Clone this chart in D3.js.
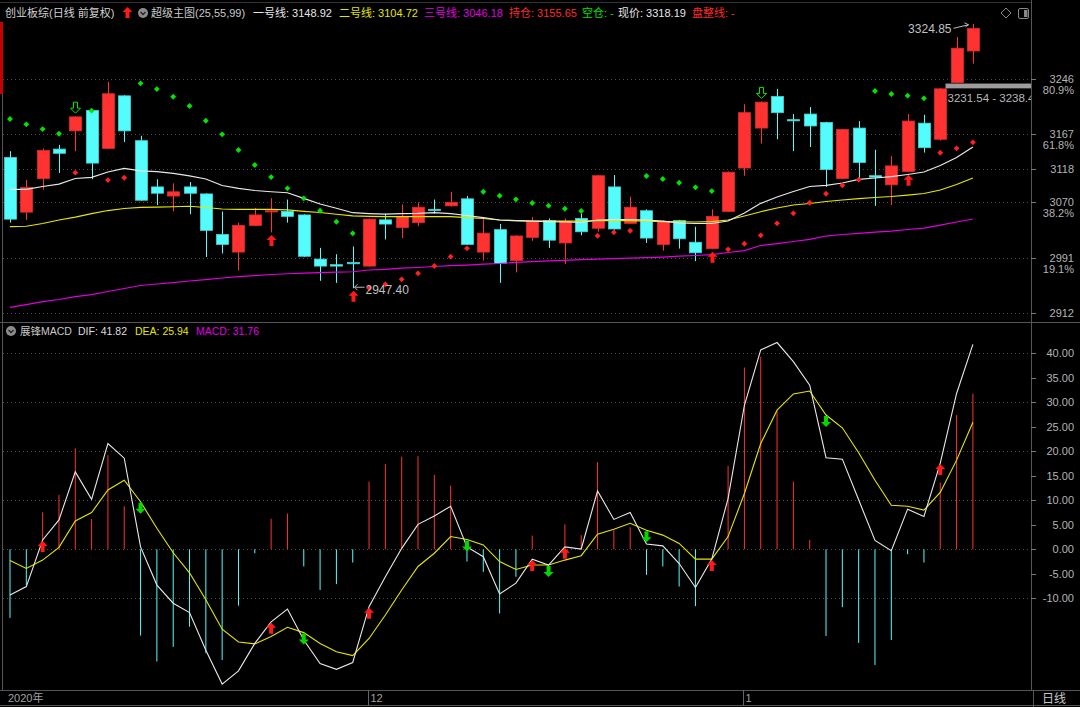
<!DOCTYPE html>
<html>
<head>
<meta charset="utf-8">
<script src="https://cdn.jsdelivr.net/npm/d3@7/dist/d3.min.js"></script>
<style>
  html, body { margin: 0; padding: 0; background: #000; }
  svg { display: block; }
  text { font-family: "Liberation Sans", Arial, "Noto Sans CJK SC", sans-serif; }
</style>
</head>
<body>
<script>
// ---- daily candles (创业板综, 60 sessions) ----
const opens = [3134,3056,3104,3146,3172,3201,3147,3222,3158,3092,3079,3092,3082,3024,2999,3037,3057,3057,3052,2989,2981,2984,2979,3045,3034,3041,3060,3065,3075,2999,3031,2987,3020,3044,3012,3047,3033,3092,3040,3058,3010,3044,3013,3004,3057,3119,3176,3221,3188,3196,3184,3104,3176,3108,3095,3114,3183,3160,3241,3286];
const highs = [3143,3102,3147,3152,3193,3202,3242,3223,3165,3103,3097,3099,3083,3057,3041,3062,3076,3074,3053,3005,2996,3007,3047,3054,3067,3070,3074,3085,3079,3046,3039,3023,3049,3047,3047,3054,3109,3109,3078,3060,3044,3045,3035,3060,3114,3210,3214,3232,3196,3206,3185,3175,3186,3145,3136,3196,3195,3233,3306,3324.85];
const lows = [3041,3045,3088,3112,3143,3103,3146,3156,3072,3066,3057,3053,2992,2997,2973,3036,3027,3041,2992,2958,2955,2947.4,2978,3017,3019,3036,3054,3064,3009,2987,2955,2970,3015,3005,2982,3023,3028,3031,3039,3012,3001,3004,2986,3003,3056,3108,3154,3160,3143,3149,3092,3103,3105,3065,3066,3113,3141,3158,3240,3268];
const closes = [3046,3091,3144,3140,3192,3126,3225,3172,3073,3083,3085,3083,3030,3010,3037,3052,3058,3050,2993,2979,2979,2983,3046,3039,3050,3063,3059,3070,3010,3026,2983,3022,3043,3016,3043,3028,3108,3032,3063,3019,3043,3018,2998,3050,3113,3198,3213,3198,3187,3179,3117,3174,3127,3106,3122,3186,3148,3232,3290,3318.19];

// ---- 超级主图 lines ----
const line1 = [3088.6,3088.6,3092.6,3096.1,3104.0,3105.7,3113.3,3118.5,3115.0,3113.7,3111.4,3107.8,3103.3,3094.0,3090.0,3086.9,3085.1,3083.7,3075.7,3067.6,3061.5,3055.2,3054.0,3053.3,3054.0,3054.3,3055.2,3054.0,3051.2,3048.3,3044.8,3044.0,3043.3,3042.6,3041.9,3041.2,3044.8,3045.5,3045.5,3044.8,3043.3,3040.5,3039.8,3039.8,3043.3,3054.7,3068.6,3077.6,3085.4,3092.6,3094.3,3097.6,3102.8,3104.7,3106.6,3109.7,3113.3,3122.5,3134.0,3148.92];
const line2 = [3035.2,3035.9,3039.8,3044.8,3049.0,3054.0,3058.3,3061.2,3062.9,3063.3,3063.7,3064.4,3062.6,3060.5,3060.0,3060.0,3060.0,3059.3,3057.2,3055.5,3053.0,3050.7,3050.0,3049.7,3049.5,3049.5,3049.5,3049.5,3048.3,3046.9,3044.8,3044.0,3043.3,3043.3,3043.3,3043.3,3044.0,3044.0,3044.0,3043.3,3042.6,3042.2,3041.9,3042.6,3044.8,3050.5,3056.6,3061.9,3066.2,3068.3,3071.2,3073.3,3075.4,3076.9,3078.3,3080.4,3082.6,3087.6,3095.4,3104.72];
const line3 = [2920.1,2924.1,2928.4,2931.3,2935.3,2938.4,2942.7,2947.0,2951.3,2953.4,2955.5,2957.7,2959.8,2962.0,2964.1,2965.5,2967.0,2968.1,2969.1,2969.8,2970.5,2970.9,2973.4,2974.4,2976.0,2977.0,2978.4,2979.8,2980.5,2981.7,2982.7,2984.4,2985.5,2986.5,2987.2,2988.2,2988.9,2989.7,2990.5,2991.2,2991.9,2993.1,2994.1,2995.4,2998.4,3001.2,3008.4,3011.2,3014.1,3017.2,3021.9,3024.1,3025.8,3027.6,3029.0,3031.2,3033.3,3037.6,3041.9,3046.18];
const sar = [3188.9,3181.3,3174.6,3167.9,3112.3,3200.8,3101.8,3105.1,3239.9,3231.7,3220.7,3207.5,3186.5,3167.1,3144.7,3123.3,3106.1,3090.0,3075.7,3058.0,3042.3,3025.8,2947.7,2953.0,2960.1,2968.7,2979.1,2992.4,3004.4,3085.1,3079.4,3074.3,3069.0,3065.2,3060.9,3057.6,3022.3,3027.2,3029.5,3107.6,3103.3,3098.0,3091.4,3086.1,3002.9,3010.9,3022.9,3040.0,3054.3,3069.4,3082.3,3094.3,3102.3,3228.9,3224.6,3222.2,3218.5,3140.8,3147.1,3155.65];
const buySignals = [16, 21, 43, 55];
const sellSignals = [4, 46];
const bandLow = 3231.54, bandHigh = 3238.4, bandStart = 57;

// ---- 展锋MACD ----
const dif = [-9.33,-7.6,1.9,6.0,15.8,10.2,21.6,18.6,0.5,-7.3,-11.0,-12.9,-20.6,-27.5,-24.8,-19.2,-14.8,-12.2,-18.5,-23.3,-24.5,-23.1,-11.7,-5.6,0.2,5.1,6.8,8.8,0.5,-1.5,-9.1,-6.9,-2.0,-3.2,0.5,0.06,11.9,6.1,7.5,1.1,0.7,-2.9,-7.8,-2.0,10.4,29.4,40.7,42.2,38.3,33.5,18.7,18.4,10.1,1.8,-0.3,8.2,6.7,17.6,31.8,41.82];
const dea = [-2.3,-3.9,-2.2,0.4,5.8,7.5,12.1,14.1,9.7,4.3,-0.7,-4.8,-10.3,-16.3,-18.9,-19.3,-17.8,-15.9,-17.0,-19.2,-20.9,-21.7,-18.2,-13.4,-8.3,-3.5,-0.8,2.6,2.0,0.9,-2.5,-4.1,-3.2,-3.2,-2.2,-1.3,3.1,4.1,5.3,3.9,2.9,1.2,-2.0,-2.0,2.6,11.4,21.6,28.4,31.7,32.3,27.4,24.8,19.7,14.1,9.0,8.8,8.0,11.6,18.2,25.94];
const macd = [-14.0,-7.3,7.55,11.1,20.6,6.2,19.2,8.8,-17.6,-22.9,-19.9,-15.8,-21.2,-22.6,-11.5,-0.8,6.2,7.3,-3.5,-8.3,-7.1,-2.7,13.8,17.4,18.9,19.0,15.2,13.0,-2.5,-4.6,-13.1,-5.6,2.8,0,5.1,2.9,17.8,3.9,4.5,-5.2,-3.5,-7.6,-11.6,0,17.0,37.1,39.3,28.2,13.8,1.9,-17.7,-11.8,-19.1,-23.6,-18.5,-1.0,-2.7,13.6,27.4,31.76];
const macdUp = [2, 16, 22, 32, 34, 43, 57];
const macdDown = [8, 18, 28, 33, 39, 50];

// ---- axis labels ----
const priceTicks = [3246, 3167, 3118, 3070, 2991, 2912];
const pctLabels = ["80.9%", "61.8%", "", "38.2%", "19.1%", ""];
const macdTicks = [40, 35, 30, 25, 20, 15, 10, 5, 0, -5, -10];
const macdGrid = [40, 30, 20, 10, 0, -10];
const dateTicks = [{ i: 0, label: "2020年" }, { i: 22, label: "12" }, { i: 45, label: "1" }];

const width = 1080, height = 707;
const plotL = 3, plotR = 1031;
const mainTop = 22, mainBot = 322, macdBot = 690;
const RED = "#ff3232", CYAN = "#54fcfc", GREEN = "#00e600";
const GRID = "#4a4a4a", FRAME = "#555", AXIS_TXT = "#b4b4b4";

const svg = d3.select("body").append("svg")
    .attr("width", width)
    .attr("height", height)
    .style("background", "#000");

const x = d3.scaleLinear().domain([0, 59]).range([10, 972.9]);
const y = d3.scaleLinear().domain([2899.2, 3327.4]).range([mainBot, mainTop]);
const ym = d3.scaleLinear().domain([-28.71, 46.39]).range([macdBot, mainBot]);
const px = i => Math.round(x(i)) + 0.5;

const defs = svg.append("defs");
defs.append("clipPath").attr("id", "clipMain").append("rect")
    .attr("x", plotL).attr("y", 18).attr("width", plotR - plotL).attr("height", mainBot - 18);
defs.append("clipPath").attr("id", "clipMacd").append("rect")
    .attr("x", plotL).attr("y", mainBot + 1).attr("width", plotR - plotL).attr("height", macdBot - mainBot - 1);

// frame
const frame = svg.append("g").attr("stroke", FRAME).attr("stroke-width", 1);
frame.append("line").attr("x1", 0).attr("x2", plotR).attr("y1", 2.5).attr("y2", 2.5).attr("stroke", "#333");
frame.append("line").attr("x1", plotL - 0.5).attr("x2", plotL - 0.5).attr("y1", 22).attr("y2", macdBot);
frame.append("line").attr("x1", plotR + 0.5).attr("x2", plotR + 0.5).attr("y1", 0).attr("y2", macdBot);
frame.append("line").attr("x1", 0).attr("x2", width).attr("y1", mainBot + 0.5).attr("y2", mainBot + 0.5);
frame.append("line").attr("x1", 0).attr("x2", width).attr("y1", macdBot + 0.5).attr("y2", macdBot + 0.5);
frame.append("line").attr("x1", 0).attr("x2", width).attr("y1", 705.5).attr("y2", 705.5);
frame.append("line").attr("x1", 1033.5).attr("x2", 1033.5).attr("y1", macdBot).attr("y2", height);
svg.append("rect").attr("x", 0).attr("y", 22).attr("width", 3).attr("height", 72).attr("fill", "#c80000");

// grids
svg.append("g").selectAll("line").data(priceTicks).join("line")
    .attr("x1", plotL).attr("x2", plotR)
    .attr("y1", d => Math.round(y(d)) + 0.5).attr("y2", d => Math.round(y(d)) + 0.5)
    .attr("stroke", GRID).attr("stroke-dasharray", "1,3");
svg.append("g").selectAll("line").data(macdGrid).join("line")
    .attr("x1", plotL).attr("x2", plotR)
    .attr("y1", d => Math.round(ym(d)) + 0.5).attr("y2", d => Math.round(ym(d)) + 0.5)
    .attr("stroke", GRID).attr("stroke-dasharray", "1,3");

// right price axis
const pAxis = svg.append("g").attr("font-size", 11).attr("fill", AXIS_TXT);
pAxis.selectAll("line").data(priceTicks).join("line")
    .attr("x1", plotR).attr("x2", plotR + 5)
    .attr("y1", d => Math.round(y(d)) + 0.5).attr("y2", d => Math.round(y(d)) + 0.5)
    .attr("stroke", "#777");
pAxis.selectAll("text.p").data(priceTicks).join("text").attr("class", "p")
    .attr("x", 1074).attr("y", d => y(d)).attr("dy", "0.36em")
    .attr("text-anchor", "end").text(d => d);
pAxis.selectAll("text.pc").data(priceTicks).join("text").attr("class", "pc")
    .attr("x", 1074).attr("y", d => y(d) + 11).attr("dy", "0.36em")
    .attr("text-anchor", "end").text((d, i) => pctLabels[i]);

// right macd axis
const mAxis = svg.append("g").attr("font-size", 11).attr("fill", AXIS_TXT);
mAxis.selectAll("line").data(macdTicks).join("line")
    .attr("x1", plotR).attr("x2", plotR + 5)
    .attr("y1", d => Math.round(ym(d)) + 0.5).attr("y2", d => Math.round(ym(d)) + 0.5)
    .attr("stroke", "#777");
mAxis.selectAll("text").data(macdTicks).join("text")
    .attr("x", 1074).attr("y", d => ym(d)).attr("dy", "0.36em")
    .attr("text-anchor", "end").text(d => d.toFixed(2));

// bottom date axis
const dAxis = svg.append("g").attr("font-size", 11).attr("fill", "#a0a0a0");
dAxis.selectAll("line").data(dateTicks.filter(d => d.i > 0)).join("line")
    .attr("x1", d => px(d.i) - 1).attr("x2", d => px(d.i) - 1)
    .attr("y1", macdBot).attr("y2", 705)
    .attr("stroke", "#666");
dAxis.selectAll("text").data(dateTicks).join("text")
    .attr("x", d => d.i > 0 ? px(d.i) + 1 : 8).attr("y", 702)
    .text(d => d.label);
svg.append("text").attr("x", 1042).attr("y", 703).attr("font-size", 12)
    .attr("fill", "#c8c8c8").text("日线");

// ---- main panel ----
const main = svg.append("g").attr("clip-path", "url(#clipMain)");
const candles = d3.range(opens.length).map(i => ({
    i, o: opens[i], h: highs[i], l: lows[i], c: closes[i], up: closes[i] >= opens[i]
}));

main.append("g").selectAll("line").data(candles).join("line")
    .attr("x1", d => px(d.i)).attr("x2", d => px(d.i))
    .attr("y1", d => y(d.h)).attr("y2", d => y(d.l))
    .attr("stroke", d => d.up ? RED : CYAN);
main.append("g").selectAll("rect").data(candles).join("rect")
    .attr("x", d => px(d.i) - 6)
    .attr("y", d => y(Math.max(d.o, d.c)))
    .attr("width", 12)
    .attr("height", d => Math.max(1.2, Math.abs(y(d.o) - y(d.c))))
    .attr("fill", d => d.up ? RED : CYAN)
    .attr("stroke", d => d.up ? "#e02a2a" : "#3fd8d8")
    .attr("stroke-width", 0.8);

const lineGen = arr => d3.line().x((d, i) => x(i)).y(d => y(d))(arr);
main.append("path").attr("d", lineGen(line3)).attr("fill", "none").attr("stroke", "#e000e0").attr("stroke-width", 1.2);
main.append("path").attr("d", lineGen(line2)).attr("fill", "none").attr("stroke", "#e6e600").attr("stroke-width", 1.2);
main.append("path").attr("d", lineGen(line1)).attr("fill", "none").attr("stroke", "#e8e8e8").attr("stroke-width", 1.2);

// SAR dots as small squares turned 45°
main.append("g").selectAll("path").data(sar).join("path")
    .attr("transform", (d, i) => `translate(${x(i)},${y(d)}) rotate(45)`)
    .attr("d", d3.symbol(d3.symbolSquare, 17))
    .attr("fill", (d, i) => d > closes[i] ? GREEN : "#ff2020");

const upArrow = "M0,0L5,5L2,5L2,11L-2,11L-2,5L-5,5Z";
const downArrow = "M-2,0L2,0L2,6L5,6L0,11L-5,6L-2,6Z";
main.append("g").selectAll("path").data(buySignals).join("path")
    .attr("transform", i => `translate(${px(i)},${y(lows[i]) + 2.5})`)
    .attr("d", upArrow).attr("fill", "#ff1a1a");
main.append("g").selectAll("path").data(sellSignals).join("path")
    .attr("transform", i => `translate(${px(i)},${y(highs[i]) - 14})`)
    .attr("d", downArrow).attr("fill", "none").attr("stroke", GREEN).attr("stroke-width", 1);

// band 3231.54 - 3238.4
main.append("rect")
    .attr("x", px(bandStart) + 5).attr("y", y(bandHigh) - 0.8)
    .attr("width", plotR - px(bandStart) - 5).attr("height", y(bandLow) - y(bandHigh))
    .attr("fill", "#9c9c9c");
main.append("text")
    .attr("x", px(bandStart) + 7).attr("y", y(bandLow) + 12.5)
    .attr("font-size", 11.5).attr("fill", "#b8b8b8")
    .text(`${bandLow} - ${bandHigh}`);

// high / low markers
const iHigh = d3.maxIndex(highs), iLow = d3.minIndex(lows);
const hx = px(iHigh), hy = y(highs[iHigh]);
main.append("path").attr("d", `M${hx - 20},${hy + 4.5}L${hx - 5},${hy + 1}M${hx - 9},${hy - 1}L${hx - 5},${hy + 1}L${hx - 8},${hy + 3}`)
    .attr("stroke", "#bbb").attr("fill", "none");
main.append("text").attr("x", hx - 22).attr("y", hy + 5).attr("dy", "0.36em")
    .attr("text-anchor", "end").attr("font-size", 12).attr("fill", "#c0c0c0")
    .text(highs[iHigh].toFixed(2));
const lx = px(iLow), ly = y(lows[iLow]);
main.append("path").attr("d", `M${lx + 11},${ly - 1}L${lx + 1},${ly - 1}M${lx + 4},${ly - 4}L${lx + 1},${ly - 1}L${lx + 4},${ly + 2}`)
    .attr("stroke", "#bbb").attr("fill", "none");
main.append("text").attr("x", lx + 12).attr("y", ly + 1).attr("dy", "0.36em")
    .attr("font-size", 12).attr("fill", "#c0c0c0")
    .text(lows[iLow].toFixed(2));

// ---- macd panel ----
const sub = svg.append("g").attr("clip-path", "url(#clipMacd)");
sub.append("g").selectAll("line").data(macd).join("line")
    .attr("x1", (d, i) => x(i)).attr("x2", (d, i) => x(i))
    .attr("y1", ym(0)).attr("y2", d => ym(d))
    .attr("stroke", d => d >= 0 ? RED : CYAN);
const mLine = arr => d3.line().x((d, i) => x(i)).y(d => ym(d))(arr);
sub.append("path").attr("d", mLine(dea)).attr("fill", "none").attr("stroke", "#e6e600").attr("stroke-width", 1.1);
sub.append("path").attr("d", mLine(dif)).attr("fill", "none").attr("stroke", "#e8e8e8").attr("stroke-width", 1.1);
sub.append("g").selectAll("path").data(macdUp).join("path")
    .attr("transform", i => `translate(${x(i)},${ym(Math.max(dif[i], dea[i])) + 1})`)
    .attr("d", upArrow).attr("fill", "#ff1a1a");
sub.append("g").selectAll("path").data(macdDown).join("path")
    .attr("transform", i => `translate(${x(i)},${ym(Math.max(dif[i], dea[i])) + 1})`)
    .attr("d", downArrow).attr("fill", "#00d800");

// ---- legends ----
const last = opens.length - 1;
const icon = (cx, cy) => {
    const g = svg.append("g");
    g.append("circle").attr("cx", cx).attr("cy", cy).attr("r", 5).attr("fill", "#8c8c8c");
    g.append("path").attr("d", `M${cx - 2.5},${cy - 1}L${cx},${cy + 1.5}L${cx + 2.5},${cy - 1}`)
        .attr("stroke", "#222").attr("stroke-width", 1.3).attr("fill", "none");
};

const topLegend = [
    { x: 5, text: "创业板综(日线 前复权)", color: "#d0d0d0" },
    { x: 151, text: "超级主图(25,55,99)", color: "#c8c8c8" },
    { x: 253, text: `一号线: ${line1[last].toFixed(2)}`, color: "#e6e6e6" },
    { x: 339, text: `二号线: ${line2[last].toFixed(2)}`, color: "#e6e600" },
    { x: 424, text: `三号线: ${line3[last].toFixed(2)}`, color: "#e000e0" },
    { x: 509, text: `持仓: ${sar[last].toFixed(2)}`, color: "#ff2a2a" },
    { x: 582, text: "空仓: -", color: "#00e000" },
    { x: 618, text: `现价: ${closes[last].toFixed(2)}`, color: "#e6e6e6" },
    { x: 692, text: "盘整线: -", color: "#ff2a2a" }
];
svg.append("g").attr("font-size", 11).selectAll("text").data(topLegend).join("text")
    .attr("x", d => d.x).attr("y", 17).attr("fill", d => d.color).text(d => d.text);
svg.append("path").attr("transform", "translate(127.5,7)").attr("d", upArrow).attr("fill", "#ff1a1a");
icon(143, 13);
// top right tool icons
svg.append("path").attr("d", "M1006,8L1011,13L1006,18L1001,13Z").attr("fill", "none").attr("stroke", "#888");
svg.append("rect").attr("x", 1018.5).attr("y", 8.5).attr("width", 10).attr("height", 10).attr("rx", 1.5)
    .attr("fill", "none").attr("stroke", "#888");
svg.append("rect").attr("x", 1024).attr("y", 10).attr("width", 3.5).attr("height", 7).attr("fill", "#888");

const macdLegend = [
    { x: 20, text: "展锋MACD", color: "#c8c8c8" },
    { x: 78, text: `DIF: ${dif[last].toFixed(2)}`, color: "#dedede" },
    { x: 135, text: `DEA: ${dea[last].toFixed(2)}`, color: "#e6e600" },
    { x: 196, text: `MACD: ${macd[last].toFixed(2)}`, color: "#e000e0" }
];
svg.append("g").attr("font-size", 10.5).selectAll("text").data(macdLegend).join("text")
    .attr("x", d => d.x).attr("y", 335).attr("fill", d => d.color).text(d => d.text);
icon(11, 331);
</script>
</body>
</html>
